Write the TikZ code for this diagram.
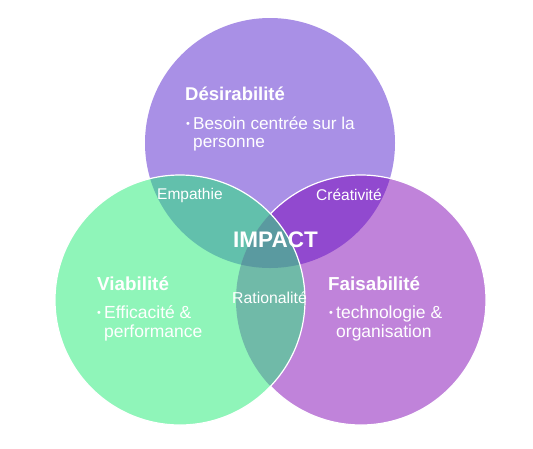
\documentclass[tikz,border=0pt]{standalone}
\usepackage{fontspec}
\setmainfont{Liberation Sans}
\definecolor{desir}{RGB}{169,144,230}
\definecolor{viab}{RGB}{143,245,185}
\definecolor{faisa}{RGB}{192,131,218}
\definecolor{empat}{RGB}{98,192,172}
\definecolor{creat}{RGB}{145,73,207}
\definecolor{ratio}{RGB}{112,186,168}
\definecolor{impact}{RGB}{90,154,160}

\begin{document}
\begin{tikzpicture}[x=1pt,y=-1pt]
  \def\rr{125};
  \def\topx{270};
  \def\topy{143};
  \def\lftx{180};
  \def\rgtx{361};
  \def\boty{300};
  \useasboundingbox (0,0) rectangle (533,448);
  \coordinate (ctop) at (\topx,\topy);
  \coordinate (clft) at (\lftx,\boty);
  \coordinate (crgt) at (\rgtx,\boty);
  % top circle
  \fill[desir] (ctop) circle (\rr);
  % right circle
  \fill[faisa] (crgt) circle (\rr);
  \begin{scope}
    \clip (crgt) circle (\rr);
    \fill[creat] (ctop) circle (\rr);
  \end{scope}
  \draw[white,line width=1.2pt] (crgt) circle (\rr);
  % left circle
  \fill[viab] (clft) circle (\rr);
  \begin{scope}
    \clip (clft) circle (\rr);
    \fill[empat] (ctop) circle (\rr);
    \fill[ratio] (crgt) circle (\rr);
    \clip (ctop) circle (\rr);
    \fill[impact] (crgt) circle (\rr);
  \end{scope}
  \draw[white,line width=1.2pt] (clft) circle (\rr);
  % texts
  \begin{scope}[white]
    \node[anchor=base west,inner sep=0,font=\fontsize{18.5}{20}\bfseries] (desirab) at (185,100) {Désirabilité};
    \node[anchor=base west,inner sep=0,font=\fontsize{11}{12}\selectfont] (bdesir) at (186,127) {•};
    \node[anchor=base west,inner sep=0,font=\fontsize{17.2}{18}\selectfont] (besoin) at (193,129) {Besoin centrée sur la};
    \node[anchor=base west,inner sep=0,font=\fontsize{17.2}{18}\selectfont] (personne) at (193,147) {personne};
    \node[anchor=base west,inner sep=0,font=\fontsize{15.5}{18}\selectfont] (empat) at (157,199) {Empathie};
    \node[anchor=base west,inner sep=0,font=\fontsize{15.5}{18}\selectfont] (creat) at (316,200) {Créativité};
    \node[anchor=base west,inner sep=0,font=\fontsize{22.5}{24}\bfseries] (impact) at (233,247) {IMPACT};
    \node[anchor=base west,inner sep=0,font=\fontsize{18.8}{20}\bfseries] (viab) at (97,290) {Viabilité};
    \node[anchor=base west,inner sep=0,font=\fontsize{11}{12}\selectfont] (bviab) at (97,316) {•};
    \node[anchor=base west,inner sep=0,font=\fontsize{17.5}{18}\selectfont] (effic) at (104,318) {Efficacité \&};
    \node[anchor=base west,inner sep=0,font=\fontsize{17.5}{18}\selectfont] (perf) at (104,337) {performance};
    \node[anchor=base west,inner sep=0,font=\fontsize{15.8}{18}\selectfont] (ratio) at (232,303) {Rationalité};
    \node[anchor=base west,inner sep=0,font=\fontsize{18.8}{20}\bfseries] (faisa) at (328,290) {Faisabilité};
    \node[anchor=base west,inner sep=0,font=\fontsize{11}{12}\selectfont] (bfaisa) at (329,316) {•};
    \node[anchor=base west,inner sep=0,font=\fontsize{17.5}{18}\selectfont] (techno) at (336,318) {technologie \&};
    \node[anchor=base west,inner sep=0,font=\fontsize{17.5}{18}\selectfont] (organ) at (336,337) {organisation};
  \end{scope}
\end{tikzpicture}
\end{document}
